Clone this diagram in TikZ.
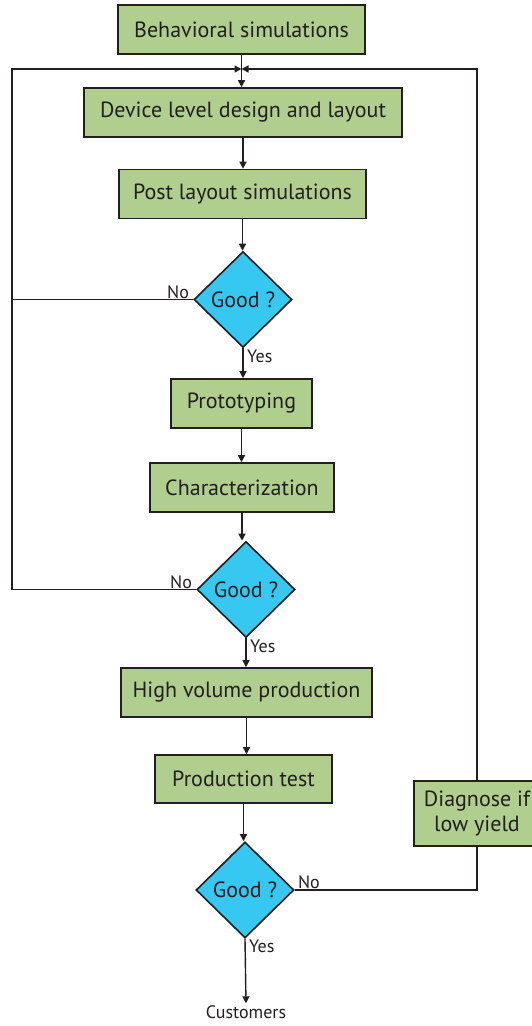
\documentclass[tikz,border=0pt]{standalone}
\usepackage{fontspec}
\setmainfont{PT Sans}
\usetikzlibrary{positioning,shapes.geometric,arrows.meta}
\definecolor{boxgreen}{RGB}{176,206,142}
\definecolor{decblue}{RGB}{54,200,240}
\definecolor{ink}{RGB}{35,31,32}

\begin{document}
\begin{tikzpicture}[x=1pt,y=-1pt,
    stepbox/.style={rectangle, draw=ink, line width=1.6pt, fill=boxgreen,
      minimum height=49pt, inner sep=0pt, text=ink,
      font=\fontsize{22}{25}\selectfont},
    decision/.style={diamond, draw=ink, line width=1.6pt, fill=decblue,
      minimum width=98pt, minimum height=96pt, inner sep=0pt, text=ink,
      font=\fontsize{22}{25}\selectfont},
    flow/.style={draw=ink, line width=1.4pt, -{Triangle[length=7pt,width=7pt]}},
    plain/.style={draw=ink, line width=1.4pt},
    lbl/.style={text=ink, inner sep=1pt, font=\fontsize{18}{21}\selectfont}]
  \useasboundingbox (0,0) rectangle (532,1026);

  % main column
  \node[stepbox, minimum width=247pt] (behav) at (241.5,29.5) {Behavioral simulations};
  \node[stepbox, minimum width=318pt] (device) at (243,112.5) {Device level design and layout};
  \node[stepbox, minimum width=247pt] (postlay) at (242.5,194) {Post layout simulations};
  \node[decision] (good1) at (243,299.5) {Good ?};
  \node[stepbox, minimum width=141pt] (proto) at (241.5,403.5) {Prototyping};
  \node[stepbox, minimum width=184pt] (charac) at (242,487.5) {Characterization};
  \node[decision] (good2) at (246,589.5) {Good ?};
  \node[stepbox, minimum width=251pt] (hvp) at (246.5,692.5) {High volume production};
  \node[stepbox, minimum width=177pt, minimum height=48pt] (prodtest) at (243.5,779) {Production test};
  \node[decision] (good3) at (245,890) {Good ?};
  \node[lbl, inner sep=2pt] (cust) at (246,1012) {Customers};

  % side box
  \node[stepbox, minimum width=126pt, minimum height=65pt, align=center] (diag) at (477,813.5) {Diagnose if\\low yield};

  % loop corners
  \coordinate (lefttop) at (12,69);
  \coordinate (merge) at (behav.south |- lefttop);

  % down the column
  \draw[flow] (behav.south) -- (behav.south |- device.north);
  \draw[flow] (device.south) -- (device.south |- postlay.north);
  \draw[flow] (postlay.south) -- (postlay.south |- good1.north);
  \draw[flow] (good1.south) -- (good1.south |- proto.north);
  \draw[flow] (proto.south) -- (proto.south |- charac.north);
  \draw[flow] (charac.south) -- (charac.south |- good2.north);
  \draw[flow] (good2.south) -- (good2.south |- hvp.north);
  \draw[flow] (hvp.south) -- (hvp.south |- prodtest.north);
  \draw[flow] (prodtest.south) -- (prodtest.south |- good3.north);
  \draw[flow] (good3.south) -- (cust.north);

  % feedback loops
  \draw[flow] (good1.west) -| (lefttop) -- (merge);
  \draw[plain] (good2.west) -| (lefttop);
  \draw[plain] (good3.east) -| (diag.south);
  \draw[flow] (diag.north) |- (merge);

  % branch labels
  \node[lbl, anchor=south east] (no1) at ([xshift=-3pt]good1.west) {No};
  \node[lbl, anchor=north west] (yes1) at ([xshift=3pt]good1.south) {Yes};
  \node[lbl, anchor=south east] (no2) at ([xshift=-3pt]good2.west) {No};
  \node[lbl, anchor=north west] (yes2) at ([xshift=3pt]good2.south) {Yes};
  \node[lbl, anchor=south west] (no3) at ([xshift=2pt]good3.east) {No};
  \node[lbl, anchor=north west] (yes3) at ([xshift=3pt]good3.south) {Yes};
\end{tikzpicture}
\end{document}
